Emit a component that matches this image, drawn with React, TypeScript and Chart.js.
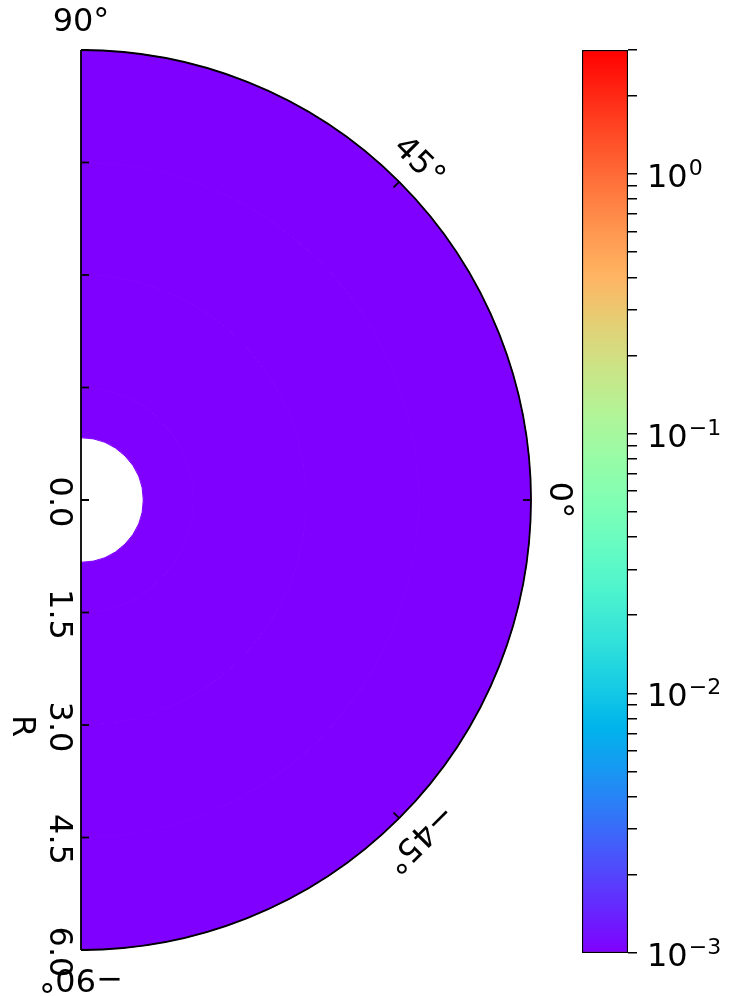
import React, { useEffect, useRef } from 'react';
import { Chart, registerables } from 'chart.js';

Chart.register(...registerables);

// ---- data ----
const R_EDGES = [0.83, 1.5, 3.0, 4.5, 6.0];
const THETA_EDGES = [-90, -45, 0, 45, 90];
// rows: radial bins (inner -> outer), columns: theta bins (-90 -> 90)
const VALUES = [
  [0.001, 0.001, 0.001, 0.001],
  [0.001, 0.001, 0.001, 0.001],
  [0.001, 0.001, 0.001, 0.001],
  [0.001, 0.001, 0.001, 0.001],
];
const R_MAX = 6;
const R_TICKS = [0, 1.5, 3.0, 4.5, 6.0];
const R_TICK_LABELS = ['0.0', '1.5', '3.0', '4.5', '6.0'];
const THETA_TICKS = [90, 45, 0, -45, -90];
const THETA_LABELS = ['90°', '45°', '0°', '−45°', '−90°'];
const R_AXIS_LABEL = 'R';

const CB_MIN = 0.001;
const CB_MAX = 3;
const CB_MAJOR = [0.001, 0.01, 0.1, 1];
const CB_EXPONENTS = ['−3', '−2', '−1', '0'];
const CB_MINOR = [
  0.002, 0.003, 0.004, 0.005, 0.006, 0.007, 0.008, 0.009,
  0.02, 0.03, 0.04, 0.05, 0.06, 0.07, 0.08, 0.09,
  0.2, 0.3, 0.4, 0.5, 0.6, 0.7, 0.8, 0.9,
  2, 3,
];

const FONT = '"DejaVu Sans", "Liberation Sans", sans-serif';

// matplotlib 'rainbow' colormap
function rainbow(t: number): string {
  const x = Math.max(0, Math.min(1, t));
  const r = Math.min(1, Math.abs(2 * x - 0.5));
  const g = Math.sin(Math.PI * x);
  const b = Math.cos((Math.PI * x) / 2);
  return `rgb(${Math.round(r * 255)},${Math.round(g * 255)},${Math.round(b * 255)})`;
}
function norm(v: number): number {
  return (Math.log10(v) - Math.log10(CB_MIN)) / (Math.log10(CB_MAX) - Math.log10(CB_MIN));
}

function drawRotated(ctx: CanvasRenderingContext2D, text: string, x: number, y: number, ang: number, size: number) {
  ctx.save();
  ctx.translate(x, y);
  ctx.rotate(ang);
  ctx.font = `${size}px ${FONT}`;
  ctx.fillStyle = '#000';
  ctx.textAlign = 'center';
  ctx.textBaseline = 'middle';
  ctx.fillText(text, 0, 0);
  ctx.restore();
}

const polarPlugin = {
  id: 'polarCells',
  afterDraw(chart: any) {
    const ctx: CanvasRenderingContext2D = chart.ctx;
    const xs = chart.scales.x;
    const ys = chart.scales.y;
    const cx = xs.getPixelForValue(0);
    const cy = ys.getPixelForValue(0);
    const rp = (r: number) => xs.getPixelForValue(r) - cx;
    const rad = (d: number) => (d * Math.PI) / 180;

    // cells
    for (let i = 0; i < R_EDGES.length - 1; i++) {
      for (let j = 0; j < THETA_EDGES.length - 1; j++) {
        const ri = rp(R_EDGES[i]);
        const ro = rp(R_EDGES[i + 1]);
        const t1 = rad(THETA_EDGES[j]);
        const t2 = rad(THETA_EDGES[j + 1]);
        const col = rainbow(norm(VALUES[i][j]));
        ctx.beginPath();
        ctx.arc(cx, cy, ro, -t1, -t2, true);
        ctx.arc(cx, cy, ri, -t2, -t1, false);
        ctx.closePath();
        ctx.fillStyle = col;
        ctx.fill();
        ctx.strokeStyle = col;
        ctx.lineWidth = 1;
        ctx.stroke();
      }
    }

    const R = rp(R_MAX);
    // spines
    ctx.save();
    ctx.strokeStyle = '#000';
    ctx.lineWidth = 1.8;
    ctx.beginPath();
    ctx.arc(cx, cy, R, -Math.PI / 2, Math.PI / 2, false);
    ctx.stroke();
    ctx.beginPath();
    ctx.moveTo(cx, cy - R);
    ctx.lineTo(cx, cy + R);
    ctx.stroke();

    // radial ticks on both straight spines
    ctx.lineWidth = 1.8;
    for (const r of R_TICKS) {
      const p = rp(r);
      for (const s of [-1, 1]) {
        ctx.beginPath();
        ctx.moveTo(cx, cy + s * p);
        ctx.lineTo(cx + 8, cy + s * p);
        ctx.stroke();
      }
    }
    // theta ticks on outer arc
    for (const t of THETA_TICKS) {
      if (Math.abs(t) === 90) continue;
      const a = rad(t);
      ctx.beginPath();
      ctx.moveTo(cx + R * Math.cos(a), cy - R * Math.sin(a));
      ctx.lineTo(cx + (R - 8) * Math.cos(a), cy - (R - 8) * Math.sin(a));
      ctx.stroke();
    }
    ctx.restore();

    // radial tick labels (lower spine, theta = -90)
    R_TICKS.forEach((r, k) => {
      drawRotated(ctx, R_TICK_LABELS[k], cx - 23, cy + rp(r) + 2, Math.PI / 2, 32);
    });
    // axis label
    drawRotated(ctx, R_AXIS_LABEL, cx - 60, cy + rp(3.0) + 1, Math.PI / 2, 32);

    // theta labels
    THETA_TICKS.forEach((t, k) => {
      const a = rad(t);
      const rl = R + 27;
      drawRotated(ctx, THETA_LABELS[k], cx + rl * Math.cos(a), cy - rl * Math.sin(a), rad(90 - t), 32);
    });
  },
};

const cbLabelPlugin = {
  id: 'cbLabels',
  afterDraw(chart: any) {
    const ctx: CanvasRenderingContext2D = chart.ctx;
    const ys = chart.scales.y;
    const x0 = chart.chartArea.right + 19;
    ctx.save();
    ctx.fillStyle = '#000';
    ctx.textAlign = 'left';
    ctx.textBaseline = 'alphabetic';
    CB_MAJOR.forEach((v, k) => {
      const y = ys.getPixelForValue(v);
      ctx.font = `32px ${FONT}`;
      ctx.fillText('10', x0, y + 13);
      const w = ctx.measureText('10').width;
      ctx.font = `22px ${FONT}`;
      ctx.fillText(CB_EXPONENTS[k], x0 + w + 1, y + 1);
    });
    ctx.restore();
  },
};

export default function App() {
  const mainRef = useRef<HTMLCanvasElement>(null);
  const cbRef = useRef<HTMLCanvasElement>(null);

  useEffect(() => {
    document.body.style.margin = '0';
    const main = new Chart(mainRef.current!, {
      type: 'scatter',
      data: { datasets: [{ data: [] }] },
      options: {
        responsive: false,
        animation: false,
        layout: { padding: { left: 81, right: 198, top: 50, bottom: 46 } },
        plugins: { legend: { display: false }, tooltip: { enabled: false } },
        scales: {
          x: { type: 'linear', min: 0, max: R_MAX, display: false },
          y: { type: 'linear', min: -R_MAX, max: R_MAX, display: false },
        },
      },
      plugins: [polarPlugin],
    } as any);

    const allTicks = [...CB_MAJOR, ...CB_MINOR].sort((a, b) => a - b);
    const cb = new Chart(cbRef.current!, {
      type: 'bar',
      data: {
        labels: [''],
        datasets: [
          {
            data: [[CB_MIN, CB_MAX]],
            backgroundColor: (c: any) => {
              const ch = c.chart;
              const ys = ch.scales && ch.scales.y;
              if (!ys || !ch.chartArea) return rainbow(0);
              const y0 = ys.getPixelForValue(CB_MIN);
              const y1 = ys.getPixelForValue(CB_MAX);
              const g = ch.ctx.createLinearGradient(0, y0, 0, y1);
              for (let k = 0; k <= 20; k++) g.addColorStop(k / 20, rainbow(k / 20));
              return g;
            },
            borderColor: '#000',
            borderWidth: 1.5,
            borderSkipped: false,
            barPercentage: 1,
            categoryPercentage: 1,
          },
        ],
      },
      options: {
        responsive: false,
        animation: false,
        layout: { padding: { left: 582, right: 0, top: 50, bottom: 43 } },
        plugins: { legend: { display: false }, tooltip: { enabled: false } },
        scales: {
          x: { display: false },
          y: {
            type: 'logarithmic',
            position: 'right',
            min: CB_MIN,
            max: CB_MAX,
            afterBuildTicks: (s: any) => {
              s.ticks = allTicks.map((v) => ({ value: v }));
            },
            afterFit: (s: any) => {
              s.width = 101;
            },
            ticks: { autoSkip: false, callback: () => '', padding: 10 },
            grid: { drawOnChartArea: false, drawTicks: true, tickLength: 9, color: '#000', lineWidth: 1.5 },
            border: { display: false },
          },
        },
      },
      plugins: [cbLabelPlugin],
    } as any);

    return () => {
      main.destroy();
      cb.destroy();
    };
  }, []);

  return (
    <div style={{ position: 'relative', width: 729, height: 996, background: '#fff' }}>
      <canvas ref={mainRef} width={729} height={996} style={{ position: 'absolute', left: 0, top: 0 }} />
      <canvas ref={cbRef} width={729} height={996} style={{ position: 'absolute', left: 0, top: 0 }} />
    </div>
  );
}
